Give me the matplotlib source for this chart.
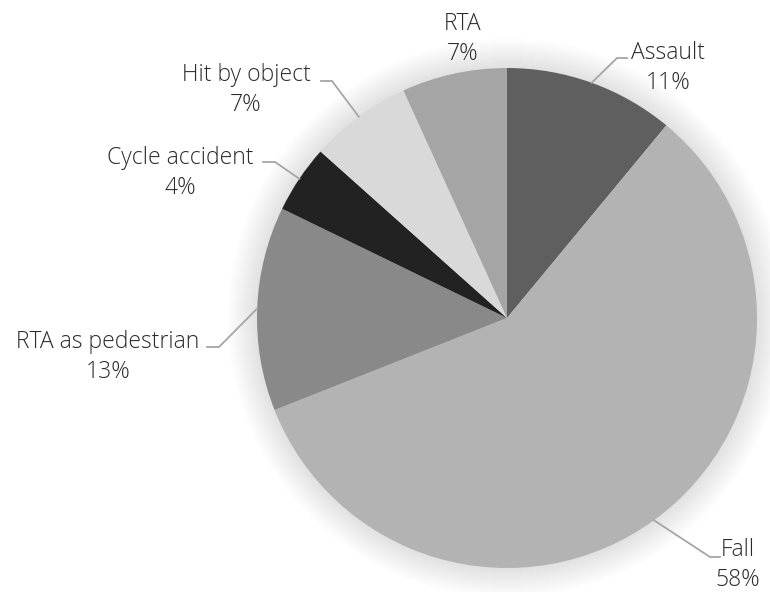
import numpy as np
import matplotlib
matplotlib.use("Agg")
import matplotlib.pyplot as plt
from matplotlib.patches import Circle

# slice data, clockwise from 12 o'clock
CATEGORIES = ["Assault", "Fall", "RTA as pedestrian", "Cycle accident", "Hit by object", "RTA"]
SHARES = [11.0, 58.0, 13.2, 4.4, 6.6, 6.8]
COLORS = ["#5f5f5f", "#b3b3b3", "#898989", "#222222", "#d9d9d9", "#a5a5a5"]

# label layout in pixel coordinates (x, y from top): text centre, leader elbow
LABEL_POS = [(668, 68), (738, 565), (108, 357), (180, 173), (246, 90), (463, 39)]
ELBOW = [(617, 58), (710, 557), (219, 347), (275, 162), (332, 81), None]
ELBOW_END = [(627, 58), (720, 557), (207, 347), (263, 162), (321, 81), None]

W, H = 770, 592
CX, CY, R = 507, 318, 250
TEXT_COLOR = "#2b2b2b"

plt.rcParams["font.family"] = ["Open Sans", "DejaVu Sans"]

fig = plt.figure(figsize=(W / 100, H / 100), dpi=100)
ax = fig.add_axes([0, 0, 1, 1])


def fy(y):
    return H - y


# soft glow behind the pie
for k in range(30):
    rr = R + 30 - k
    ax.add_patch(Circle((CX, fy(CY)), rr, color="#000000", alpha=0.005, lw=0, zorder=0))

wedges, _ = ax.pie(SHARES, colors=COLORS, startangle=90, counterclock=False,
                   center=(CX, fy(CY)), radius=R, frame=True,
                   wedgeprops=dict(linewidth=0))
ax.set_xlim(0, W)
ax.set_ylim(0, H)
ax.set_aspect("equal")
ax.axis("off")

total = sum(SHARES)
for i, w in enumerate(wedges):
    pct = round(SHARES[i] / total * 100)
    tx, ty = LABEL_POS[i]
    ax.text(tx, fy(ty), f"{CATEGORIES[i]}\n{pct}%", ha="center", va="center",
            fontsize=16.5, color=TEXT_COLOR, linespacing=1.37, fontweight="light")
    if ELBOW[i] is None:
        continue
    mid = np.deg2rad((w.theta1 + w.theta2) / 2)
    sx, sy = CX + R * np.cos(mid), fy(CY) + R * np.sin(mid)
    ex, ey = ELBOW[i]
    fx, fy2 = ELBOW_END[i]
    ax.plot([sx, ex, fx], [sy, fy(ey), fy(fy2)], color="#a6a6a6", lw=1.3,
            solid_joinstyle="miter", zorder=3)

fig.savefig("out.png", dpi=100)
